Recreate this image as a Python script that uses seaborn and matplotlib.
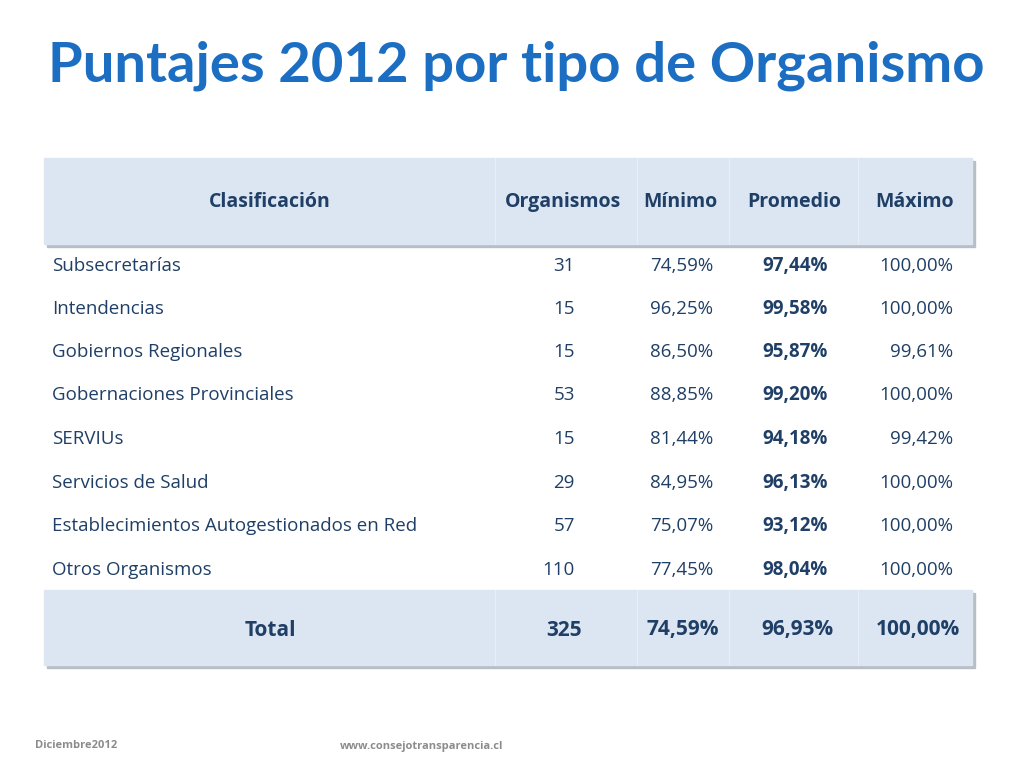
import matplotlib.pyplot as plt
import matplotlib.patches as patches
import seaborn as sns

sns.set_theme(style="white")

# table data
header = ['Clasificación', 'Organismos', 'Mínimo', 'Promedio', 'Máximo']
categories = ['Subsecretarías', 'Intendencias', 'Gobiernos Regionales',
              'Gobernaciones Provinciales', 'SERVIUs', 'Servicios de Salud',
              'Establecimientos Autogestionados en Red', 'Otros Organismos']
organismos = [31, 15, 15, 53, 15, 29, 57, 110]
minimo = ['74,59%', '96,25%', '86,50%', '88,85%', '81,44%', '84,95%', '75,07%', '77,45%']
promedio = ['97,44%', '99,58%', '95,87%', '99,20%', '94,18%', '96,13%', '93,12%', '98,04%']
maximo = ['100,00%', '100,00%', '99,61%', '100,00%', '99,42%', '100,00%', '100,00%', '100,00%']
total = ['Total', '325', '74,59%', '96,93%', '100,00%']

font = 'Open Sans'
text_col = '#1f3f66'
band_col = '#dce6f2'

fig = plt.figure(figsize=(10.24, 7.68), dpi=100)
ax = fig.add_axes([0, 0, 1, 1])
ax.set_xlim(0, 1024)
ax.set_ylim(768, 0)
ax.axis('off')

ax.text(48, 66, 'Puntajes 2012 por tipo de Organismo', fontsize=40.5, fontweight='bold',
        color='#1b6ec2', family='Lato', va='center', ha='left')

# header and total bands with soft shadow
for y0, y1 in [(158, 244), (590, 665)]:
    ax.add_patch(patches.Rectangle((47, y0 + 3), 928, y1 - y0, color='#b8bec6', zorder=1))
    ax.add_patch(patches.Rectangle((44, y0), 928, y1 - y0, color=band_col, zorder=2))
    for xs in [495, 637, 729, 858]:
        ax.plot([xs, xs], [y0, y1], color='#e8eef6', lw=0.8, zorder=3)

header_x = [270, 563, 680, 794, 915]
for x, h in zip(header_x, header):
    ax.text(x, 202, h, fontsize=14, fontweight='bold', color=text_col, family=font,
            ha='center', va='center', zorder=4)

row_y = [266, 309, 352, 395, 439, 483, 526, 570]
for y, c, o, mn, pr, mx in zip(row_y, categories, organismos, minimo, promedio, maximo):
    kw = dict(fontsize=13.5, color=text_col, family=font, va='center')
    ax.text(52, y, c, ha='left', **kw)
    ax.text(575, y, str(o), ha='right', **kw)
    ax.text(713, y, mn, ha='right', **kw)
    ax.text(828, y, pr, ha='right', fontweight='bold', **kw)
    ax.text(953, y, mx, ha='right', **kw)

tot_x = [270, 582, 719, 833, 960]
tot_ha = ['center', 'right', 'right', 'right', 'right']
for x, t, ha in zip(tot_x, total, tot_ha):
    ax.text(x, 630, t, fontsize=15, fontweight='bold', color=text_col, family=font,
            ha=ha, va='center', zorder=4)

ax.text(35, 746, 'Diciembre2012', fontsize=8, fontweight='bold', color='#8c8c8c',
        family=font, va='center')
ax.text(340, 746, 'www.consejotransparencia.cl', fontsize=8, fontweight='bold',
        color='#8c8c8c', family=font, va='center')

fig.savefig('out.png', dpi=100)
